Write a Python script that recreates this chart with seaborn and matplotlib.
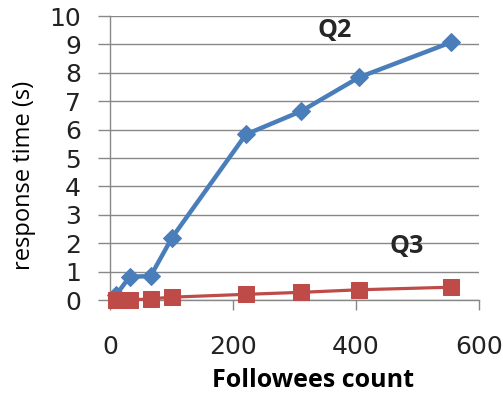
import matplotlib
matplotlib.use("Agg")
import matplotlib.pyplot as plt
import seaborn as sns
import pandas as pd

followees = [10, 32, 66, 101, 221, 311, 405, 554]
q2_time = [0.18, 0.82, 0.84, 2.2, 5.83, 6.65, 7.84, 9.07]
q3_time = [0.01, 0.0, 0.04, 0.1, 0.2, 0.27, 0.36, 0.45]
x_ticks = [0, 200, 400, 600]
y_ticks = list(range(0, 11))

sns.set_style("white")
plt.rcParams['font.family'] = ['DejaVu Sans']

fig = plt.figure(figsize=(5.03, 3.96), dpi=100)
ax = fig.add_axes([110/503, 1-300/396, 369/503, 284/396])

df2 = pd.DataFrame({"x": followees, "y": q2_time})
df3 = pd.DataFrame({"x": followees, "y": q3_time})
blue = "#4A7EBB"
red = "#BE4B48"
sns.lineplot(data=df2, x="x", y="y", ax=ax, color=blue, lw=3.2, marker="D",
             markersize=9, markeredgecolor=blue, clip_on=False, zorder=3)
sns.lineplot(data=df3, x="x", y="y", ax=ax, color=red, lw=2.3, marker="s",
             markersize=12, markeredgecolor=red, clip_on=False, zorder=4)

ax.set_xlim(0, 600)
ax.set_ylim(0, 10)
ax.set_xticks(x_ticks)
ax.set_yticks(y_ticks)
ax.yaxis.grid(True, color="#888888", lw=1)
ax.xaxis.grid(False)
for s in ["top", "right"]:
    ax.spines[s].set_visible(False)
for s in ["left", "bottom"]:
    ax.spines[s].set_color("#888888")
    ax.spines[s].set_linewidth(1)
ax.tick_params(axis="y", direction="out", length=9, width=1, color="#888888",
               pad=12, labelsize=18, labelcolor="#222222", left=True)
ax.tick_params(axis="x", direction="out", length=7, width=1, color="#888888",
               pad=18, labelsize=18, labelcolor="#222222", bottom=True)

ax.set_xlabel("Followees count", fontsize=18, fontweight="bold",
              family=["Open Sans", "DejaVu Sans"], color="black")
ax.xaxis.set_label_coords((312.5-110)/369, -0.24)
ax.set_ylabel("response time (s)", fontsize=17, family=["Open Sans", "DejaVu Sans"],
              color="black")
ax.yaxis.set_label_coords(-0.2, 0.44)

ax.text(366, 9.5, "Q2", fontsize=18, fontweight="bold", ha="center", va="center",
        family=["Open Sans", "DejaVu Sans"])
ax.text(482, 1.9, "Q3", fontsize=18, fontweight="bold", ha="center", va="center",
        family=["Open Sans", "DejaVu Sans"])

fig.savefig("out.png", dpi=100)
